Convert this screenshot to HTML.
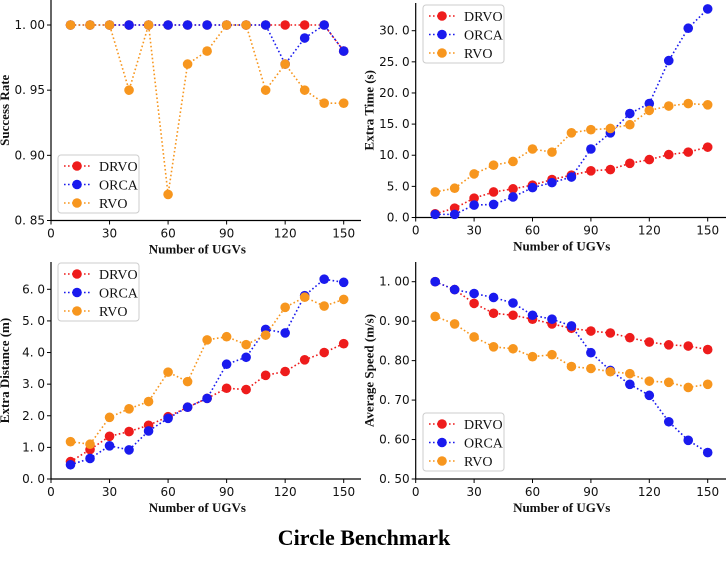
<!DOCTYPE html>
<html><head><meta charset="utf-8"><style>
html,body{margin:0;padding:0;background:#fff;}
svg{display:block;}
.tick{font-family:"DejaVu Sans","Liberation Sans",sans-serif;font-size:12px;fill:#111;}
.lab{font-family:"Liberation Serif",serif;font-weight:bold;font-size:13px;fill:#111;}
.leg{font-family:"Liberation Serif",serif;font-size:14px;fill:#111;}
</style></head><body>
<svg id="svg" width="727" height="563" viewBox="0 0 727 563" xmlns="http://www.w3.org/2000/svg">
<text x="364" y="545" text-anchor="middle" style="font-family:'Liberation Serif',serif;font-weight:bold;font-size:22px">Circle Benchmark</text>
</svg>
<script>
const xs = [10,20,30,40,50,60,70,80,90,100,110,120,130,140,150];
const xTicks = [0,30,60,90,120,150];
const seriesNames = ['DRVO','ORCA','RVO'];
const colors = ['#ee1c1c','#1a1aee','#f7961e'];

const srDRVO = [1,1,1,1,1,1,1,1,1,1,1,1,1,1,0.98];
const srORCA = [1,1,1,1,1,1,1,1,1,1,1,0.97,0.99,1,0.98];
const srRVO  = [1,1,1,0.95,1,0.87,0.97,0.98,1,1,0.95,0.97,0.95,0.94,0.94];
const srTicks = [0.85,0.90,0.95,1.00];
const srTickLabels = ['0. 85','0. 90','0. 95','1. 00'];

const etDRVO = [0.6,1.5,3.1,4.1,4.6,5.2,6.1,6.8,7.5,7.7,8.7,9.3,10.1,10.5,11.3];
const etORCA = [0.5,0.5,2.0,2.1,3.3,4.8,5.6,6.5,11.0,13.6,16.7,18.3,25.2,30.4,33.5];
const etRVO  = [4.1,4.7,7.0,8.4,9.0,11.0,10.5,13.6,14.1,14.3,14.9,17.2,17.9,18.3,18.1];
const etTicks = [0,5,10,15,20,25,30];
const etTickLabels = ['0. 0','5. 0','10. 0','15. 0','20. 0','25. 0','30. 0'];

const edDRVO = [0.55,0.93,1.35,1.5,1.7,1.97,2.27,2.55,2.87,2.83,3.28,3.4,3.77,4.0,4.28];
const edORCA = [0.45,0.65,1.05,0.92,1.52,1.92,2.27,2.55,3.63,3.85,4.73,4.62,5.8,6.32,6.22];
const edRVO  = [1.18,1.1,1.95,2.22,2.45,3.38,3.08,4.4,4.5,4.25,4.55,5.43,5.75,5.47,5.68];
const edTicks = [0,1,2,3,4,5,6];
const edTickLabels = ['0. 0','1. 0','2. 0','3. 0','4. 0','5. 0','6. 0'];

const asDRVO = [1.0,0.98,0.945,0.92,0.915,0.905,0.893,0.882,0.875,0.87,0.858,0.847,0.84,0.837,0.828];
const asORCA = [1.0,0.98,0.97,0.96,0.946,0.915,0.905,0.888,0.82,0.775,0.74,0.712,0.645,0.598,0.567];
const asRVO  = [0.912,0.893,0.86,0.835,0.83,0.81,0.815,0.785,0.78,0.772,0.767,0.748,0.745,0.732,0.74];
const asTicks = [0.5,0.6,0.7,0.8,0.9,1.0];
const asTickLabels = ['0. 50','0. 60','0. 70','0. 80','0. 90','1. 00'];

const NS='http://www.w3.org/2000/svg';
const svg=document.getElementById('svg');
function mk(tag,attrs,parent){const e=document.createElementNS(NS,tag);for(const k in attrs)e.setAttribute(k,attrs[k]);(parent||svg).appendChild(e);return e;}

function panel(o){
  const g=mk('g',{});
  
  
  const X=v=>o.x0+(v/150)*(o.x150-o.x0);
  const Y=v=>o.yb-(v-o.ymin)/(o.ymax-o.ymin)*(o.yb-o.yt);
  const axL=mk('line',{x1:o.x0,y1:o.top,x2:o.x0,y2:o.yb,stroke:'#000','stroke-width':1.2},g);
  
  
  const axB=mk('line',{x1:o.x0,y1:o.yb,x2:o.right,y2:o.yb,stroke:'#000','stroke-width':1.2},g);
  
  
  xTicks.forEach(t=>{
    mk('line',{x1:X(t),y1:o.yb,x2:X(t),y2:o.yb+4,stroke:'#000'},g);
    const tx=mk('text',{x:X(t),y:o.yb+17,'text-anchor':'middle',class:'tick'},g);
    tx.textContent=t;
    
    
  });
  o.ticks.forEach((t,i)=>{
    mk('line',{x1:o.x0-4,y1:Y(t),x2:o.x0,y2:Y(t),stroke:'#000'},g);
    const tx=mk('text',{x:o.x0-6,y:Y(t)+4,'text-anchor':'end',class:'tick'},g);
    tx.textContent=o.tickLabels[i];
    
    
  });
  const xl=mk('text',{x:(o.x0+o.x150)/2,y:o.yb+33,'text-anchor':'middle',class:'lab'},g);
  xl.textContent='Number of UGVs';
  
  
  const yc=(o.top+o.yb)/2, yx=o.x0-42;
  const yl=mk('text',{x:yx,y:yc,'text-anchor':'middle',class:'lab',transform:`rotate(-90 ${yx} ${yc})`},g);
  yl.textContent=o.ylabel;
  
  
  o.series.forEach((s,si)=>{
    const sg=mk('g',{},g);
    
    
    mk('polyline',{points:s.map((v,i)=>X(xs[i])+','+Y(v)).join(' '),fill:'none',stroke:colors[si],'stroke-width':1.6,'stroke-dasharray':'1.6 2.4'},sg);
    s.forEach((v,i)=>{
      const c=mk('circle',{cx:X(xs[i]),cy:Y(v),r:4.8,fill:colors[si]},sg);
      
      
    });
  });
  const lg=mk('g',{},g);
  
  
  mk('rect',{x:o.lx,y:o.ly,width:81,height:58,rx:3,fill:'#fff',stroke:'#ccc'},lg);
  seriesNames.forEach((n,i)=>{
    const y=o.ly+11+i*18.5;
    const e=mk('g',{},lg);
    
    
    mk('line',{x1:o.lx+6,y1:y,x2:o.lx+32,y2:y,stroke:colors[i],'stroke-width':1.6,'stroke-dasharray':'1.6 2.4'},e);
    mk('circle',{cx:o.lx+19,cy:y,r:4.8,fill:colors[i]},e);
    const t=mk('text',{x:o.lx+41,y:y+5,class:'leg'},e);
    t.textContent=n;
  });
}

panel({name:'success-rate-chart',x0:51,x150:343.7,right:361,top:0,yb:220.5,yt:25,ymin:0.85,ymax:1.00,
  ticks:srTicks,tickLabels:srTickLabels,ylabel:'Success Rate',series:[srDRVO,srORCA,srRVO],lx:58,ly:155});
panel({name:'extra-time-chart',x0:415.7,x150:707.7,right:726,top:3,yb:217.5,yt:30.7,ymin:0,ymax:30,
  ticks:etTicks,tickLabels:etTickLabels,ylabel:'Extra Time (s)',series:[etDRVO,etORCA,etRVO],lx:423,ly:5});
panel({name:'extra-distance-chart',x0:51,x150:343.7,right:361,top:262,yb:479,yt:289.3,ymin:0,ymax:6,
  ticks:edTicks,tickLabels:edTickLabels,ylabel:'Extra Distance (m)',series:[edDRVO,edORCA,edRVO],lx:58,ly:263});
panel({name:'average-speed-chart',x0:415.7,x150:707.7,right:726,top:262,yb:479,yt:281.7,ymin:0.5,ymax:1.0,
  ticks:asTicks,tickLabels:asTickLabels,ylabel:'Average Speed (m/s)',series:[asDRVO,asORCA,asRVO],lx:423,ly:413});
</script>
</body></html>
